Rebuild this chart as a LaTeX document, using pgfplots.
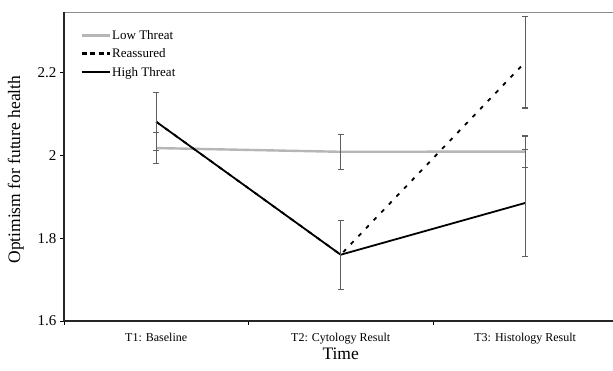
\documentclass[border=0pt]{standalone}
\usepackage{pgfplots}
\pgfplotsset{compat=1.18}
\usepackage{fontspec}
\setmainfont{Liberation Serif}
\definecolor{lowgray}{RGB}{182,182,182}
\definecolor{errgray}{RGB}{95,95,95}
\definecolor{framegray}{RGB}{140,140,140}
\begin{document}
\begin{tikzpicture}
\begin{axis}[
  scale only axis,
  width=549bp, height=309bp,
  xmin=-0.5, xmax=2.476,
  ymin=1.6, ymax=2.346,
  axis line style={draw=none},
  xtick={-0.5,0.5,1.5},
  xticklabels={},
  extra x ticks={0,1,2},
  extra x tick labels={T1: Baseline, T2: Cytology Result, T3: Histology Result},
  extra x tick style={major tick length=0pt, tick label style={font=\fontsize{12bp}{13bp}\selectfont, yshift=-9bp}},
  ytick={1.6,1.8,2,2.2},
  yticklabel style={font=\fontsize{15bp}{17bp}\selectfont},
  /pgf/number format/assume math mode=true,
  xtick pos=bottom, ytick pos=left,
  tick align=outside,
  major tick length=4bp,
  tick style={black, line width=0.8bp},
  xlabel={Time},
  xlabel style={font=\fontsize{17.5bp}{19bp}\selectfont, at={(axis description cs:0.504,0)}, anchor=base, yshift=-38bp},
  ylabel={Optimism for future health},
  ylabel style={font=\fontsize{17.5bp}{19bp}\selectfont, at={(axis description cs:-0.080,0.49)}, anchor=base},
  legend style={at={(axis description cs:0,1)}, anchor=north west, xshift=16bp, yshift=-17bp, draw=none, fill=none, font=\fontsize{13bp}{15bp}\selectfont, inner sep=0pt, row sep=6bp, nodes={inner sep=1bp}},
  legend cell align=left,
  error bars/error bar style={solid, color=errgray, line width=1.2bp},
  error bars/error mark options={solid, rotate=90, mark size=3bp, color=errgray, line width=1.2bp},
  clip=false,
]
\addplot[lowgray, line width=2.4bp, mark=none,
  legend image code/.code={\draw[lowgray, line width=2.4bp] (0bp,0bp) -- (28bp,0bp);},
  error bars/.cd, y dir=both, y explicit]
  coordinates {(0,2.0175) +- (0,0.0375) (1,2.0085) +- (0,0.0425) (2,2.009) +- (0,0.0375)};
\addlegendentry{Low Threat}
\addplot[black, line width=1.8bp, dash pattern=on 4bp off 7bp, mark=none,
  legend image code/.code={\draw[black, line width=3bp, dash pattern=on 5bp off 3.5bp] (0bp,0bp) -- (28bp,0bp);},
  error bars/.cd, y dir=both, y explicit]
  coordinates {(0,2.081) +- (0,0.070) (1,1.760) +- (0,0.083) (2,2.225) +- (0,0.111)};
\addlegendentry{Reassured}
\addplot[black, line width=1.8bp, mark=none,
  legend image code/.code={\draw[black, line width=2bp] (0bp,0bp) -- (28bp,0bp);},
  error bars/.cd, y dir=both, y explicit]
  coordinates {(0,2.081) +- (0,0.070) (1,1.760) +- (0,0.083) (2,1.885) +- (0,0.129)};
\addlegendentry{High Threat}
\draw[framegray, line width=1bp] (rel axis cs:0,1) -- (rel axis cs:1,1);
\draw[black!85, line width=1.2bp] (rel axis cs:0,1) -- (rel axis cs:0,0) -- (rel axis cs:1,0);
\end{axis}
\pgfresetboundingbox
\path[use as bounding box] (-64bp,-50bp) rectangle (549bp,321bp);
\end{tikzpicture}
\end{document}
